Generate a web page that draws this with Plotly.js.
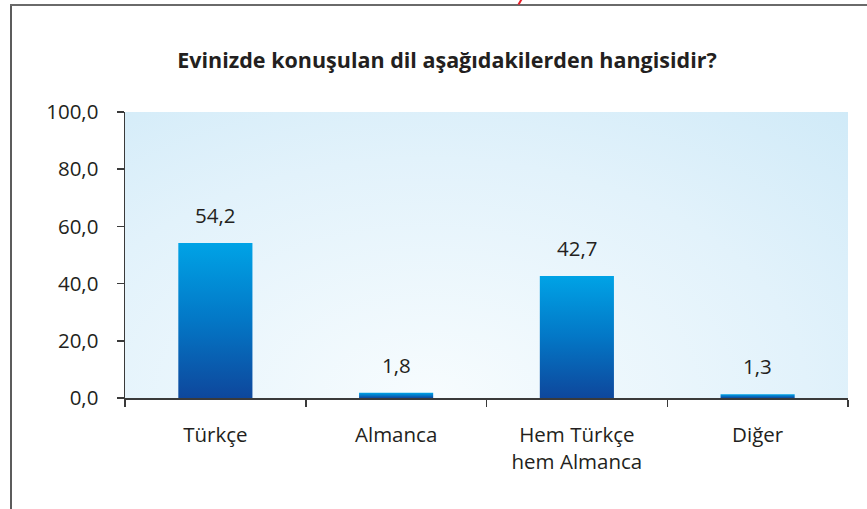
<!DOCTYPE html>
<html>
<head>
<meta charset="utf-8">
<script src="https://cdn.plot.ly/plotly-3.0.1.min.js"></script>
<style>
  html, body { margin: 0; padding: 0; background: #ffffff; }
  #wrap { position: relative; width: 867px; height: 509px; overflow: hidden; }
  #chart { position: absolute; left: 0; top: 0; width: 867px; height: 509px; }
  .frame-left { position: absolute; left: 10px; top: 4px; width: 2px; height: 505px; background: #5c5c5c; }
  .frame-top { position: absolute; left: 10px; top: 4px; width: 857px; height: 2px; background: #6a6a6a; }
  .red-mark { position: absolute; left: 519px; top: -1px; width: 2px; height: 6px; background: #e8202a; transform: rotate(30deg); }
</style>
</head>
<body>
<div id="wrap">
  <div id="chart"></div>
  <div class="frame-left"></div>
  <div class="frame-top"></div>
  <div class="red-mark"></div>
</div>
<script>
// ---- data ----
const categories = ["Türkçe", "Almanca", "Hem Türkçe<br>hem Almanca", "Diğer"];
const percentages = [54.2, 1.8, 42.7, 1.3];
const yTickValues = [0, 20, 40, 60, 80, 100];
const chartTitle = "Evinizde konuşulan dil aşağıdakilerden hangisidir?";

const FONT = "'Open Sans', 'Noto Sans', sans-serif";
const TEXT = "#231f20";

const bgSvg = '<svg xmlns="http://www.w3.org/2000/svg" width="723" height="286" viewBox="0 0 723 286" preserveAspectRatio="none">' +
  '<defs><radialGradient id="g" cx="0.42" cy="1.0" r="0.95" gradientTransform="translate(0.42 1) scale(1 1.6) translate(-0.42 -1)">' +
  '<stop offset="0" stop-color="#f7fcfe"/><stop offset="0.55" stop-color="#e2f2fb"/><stop offset="1" stop-color="#cbe8f7"/></radialGradient></defs>' +
  '<rect width="723" height="286" fill="url(#g)"/></svg>';
const bgUri = 'data:image/svg+xml;charset=utf-8,' + encodeURIComponent(bgSvg);

const trace = {
  type: "bar",
  x: categories,
  y: percentages,
  width: 0.41,
  marker: { color: "#0a72c4", line: { width: 0 } },
  hoverinfo: "none"
};

// value labels above the bars, placed through the axes
const valueLabels = categories.map(function (c, i) {
  return {
    x: c, y: percentages[i], xref: "x", yref: "y",
    text: percentages[i].toFixed(1).replace(".", ","),
    showarrow: false, yanchor: "bottom", yshift: 12,
    font: { family: FONT, size: 20.5, color: TEXT }
  };
});

const layout = {
  width: 867,
  height: 509,
  margin: { l: 125, r: 19, t: 112, b: 111 },
  paper_bgcolor: "rgba(0,0,0,0)",
  plot_bgcolor: "rgba(0,0,0,0)",
  separators: ",.",
  showlegend: false,
  title: {
    text: "<b>" + chartTitle + "</b>",
    font: { family: FONT, size: 21.5, color: TEXT },
    x: 447 / 867, xanchor: "center", xref: "container",
    y: 1 - 60 / 509, yanchor: "middle", yref: "container"
  },
  xaxis: {
    type: "category",
    showgrid: false,
    showline: true,
    linecolor: "#3a3a3a",
    linewidth: 1.5,
    ticks: "outside",
    tickson: "boundaries",
    ticklen: 7,
    tickcolor: "#3a3a3a",
    tickwidth: 1.5,
    tickfont: { family: FONT, size: 20.5, color: TEXT },
    ticklabelstandoff: 18,
    zeroline: false,
    fixedrange: true
  },
  yaxis: {
    range: [0, 100],
    tickvals: yTickValues,
    tickformat: ".1f",
    showgrid: false,
    showline: true,
    linecolor: "#3a3a3a",
    linewidth: 1.5,
    ticks: "outside",
    ticklen: 7,
    tickcolor: "#3a3a3a",
    tickwidth: 1.5,
    tickfont: { family: FONT, size: 20.5, color: TEXT },
    ticklabelstandoff: 14,
    zeroline: false,
    fixedrange: true
  },
  annotations: valueLabels,
  images: [{
    source: bgUri,
    xref: "paper", yref: "paper",
    x: 0, y: 1, sizex: 1, sizey: 1,
    xanchor: "left", yanchor: "top",
    sizing: "stretch",
    layer: "below"
  }]
};

Plotly.newPlot("chart", [trace], layout, { staticPlot: true, displayModeBar: false }).then(function (gd) {
  // vertical gradient on the bars (style only)
  const svg = gd.querySelector("svg.main-svg");
  const NS = "http://www.w3.org/2000/svg";
  let defs = svg.querySelector("defs");
  if (!defs) { defs = document.createElementNS(NS, "defs"); svg.insertBefore(defs, svg.firstChild); }
  const lg = document.createElementNS(NS, "linearGradient");
  lg.setAttribute("id", "barGrad");
  lg.setAttribute("x1", "0"); lg.setAttribute("y1", "0");
  lg.setAttribute("x2", "0"); lg.setAttribute("y2", "1");
  [["0", "#00a3e6"], ["0.5", "#0377c6"], ["1", "#0e479c"]].forEach(function (s) {
    const st = document.createElementNS(NS, "stop");
    st.setAttribute("offset", s[0]);
    st.setAttribute("stop-color", s[1]);
    lg.appendChild(st);
  });
  defs.appendChild(lg);
  gd.querySelectorAll(".trace.bars .point path").forEach(function (p) {
    p.style.fill = "url(#barGrad)";
  });
});
</script>
</body>
</html>
